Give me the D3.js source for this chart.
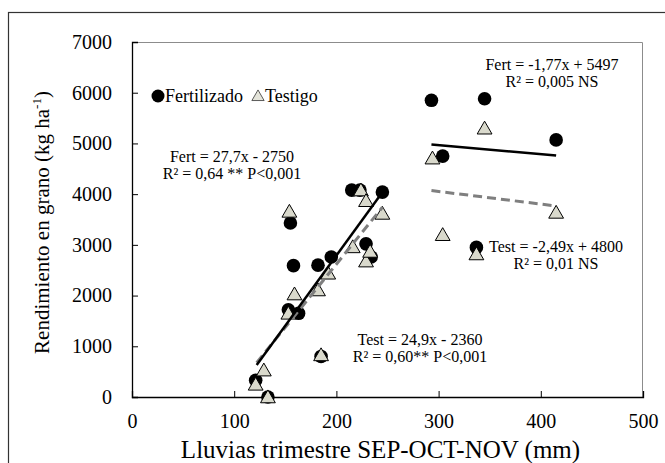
<!DOCTYPE html>
<html>
<head>
<meta charset="utf-8">
<script src="https://cdn.jsdelivr.net/npm/d3@7"></script>
<style>
  body { margin: 0; background: #fff; }
  svg text { font-family: "Liberation Serif", "Times New Roman", serif; fill: #000; }
  .axis path, .axis line { stroke: #000; }
  .axis text { font-size: 20px; }
</style>
</head>
<body>
<div id="chart"></div>
<script>
// rainfall (mm) and grain yield (kg/ha)
var fertX = [121, 133, 153, 155, 158, 163, 182, 185, 195, 215, 223, 229, 234, 245, 293, 304, 337, 345, 415];
var fertY = [330, 0, 1720, 3430, 2590, 1650, 2600, 800, 2760, 4080, 4080, 3020, 2760, 4040, 5850, 4750, 2950, 5880, 5070];
var testX = [121, 129, 133, 153, 154, 159, 182, 185, 192, 216, 224, 229, 229, 233, 245, 294, 304, 337, 345, 415];
var testY = [250, 530, 0, 1650, 3660, 2030, 2110, 830, 2440, 2960, 4080, 3870, 2680, 2870, 3620, 4710, 3200, 2820, 5300, 3640];

// regression fits: [slope, intercept, xmin, xmax]
var fertFitLow = [27.7, -2750, 122, 245];
var testFitLow = [24.9, -2360, 122, 245];
var fertFitHigh = [-1.77, 5497, 293, 415];
var testFitHigh = [-2.49, 4800, 293, 415];

var xTicks = [0, 100, 200, 300, 400, 500];
var yTicks = [0, 1000, 2000, 3000, 4000, 5000, 6000, 7000];

var W = 665, H = 463;
var margin = { left: 132, top: 42, right: 22, bottom: 66 };
var width = W - margin.left - margin.right,
    height = H - margin.top - margin.bottom;

var svg = d3.select("#chart").append("svg")
    .attr("width", W)
    .attr("height", H);

// outer chart frame (runs off the page right/bottom)
svg.append("rect")
    .attr("x", 8.5).attr("y", 12.5)
    .attr("width", 700).attr("height", 500)
    .attr("fill", "none")
    .attr("stroke", "#333")
    .attr("stroke-width", 1.2);

var chart = svg.append("g")
    .attr("transform", `translate(${margin.left},${margin.top})`);

var xScale = d3.scaleLinear().domain([0, 500]).range([0, width]);
var yScale = d3.scaleLinear().domain([0, 7000]).range([height, 0]);

// plot area top/right border
chart.append("path")
    .attr("d", `M0,0.5H${width - 0.5}V${height}`)
    .attr("fill", "none")
    .attr("stroke", "#8c8c8c")
    .attr("stroke-width", 1);

chart.append("g")
    .attr("class", "axis")
    .call(d3.axisLeft(yScale).tickValues(yTicks).tickSize(-6).tickPadding(20).tickFormat(d3.format("d")))
    .call(g => g.select(".domain").attr("stroke-width", 1.3));

chart.append("g")
    .attr("class", "axis")
    .attr("transform", `translate(0,${height})`)
    .call(d3.axisBottom(xScale).tickValues(xTicks).tickSize(-6).tickPadding(17).tickFormat(d3.format("d")))
    .call(g => g.select(".domain").attr("stroke-width", 1.3));

// axis titles
svg.append("text")
    .attr("x", margin.left + width / 2 - 7)
    .attr("y", 458)
    .attr("text-anchor", "middle")
    .style("font-size", "25px")
    .text("Lluvias trimestre SEP-OCT-NOV (mm)");

var yt = svg.append("text")
    .attr("transform", `translate(49,${margin.top + height / 2 + 3}) rotate(-90)`)
    .attr("text-anchor", "middle")
    .style("font-size", "21px");
yt.append("tspan").text("Rendimiento en grano (kg ha");
yt.append("tspan").attr("dy", -8).style("font-size", "13px").text("-1");
yt.append("tspan").attr("dy", 8).text(")");

// fitted lines
function fitLine(f, dashed) {
    var pts = [f[2], f[3]].map(x => [x, f[0] * x + f[1]]);
    chart.append("path")
        .datum(pts)
        .attr("d", d3.line().x(d => xScale(d[0])).y(d => yScale(d[1])))
        .attr("fill", "none")
        .attr("stroke", dashed ? "#7f7f7f" : "#000")
        .attr("stroke-width", dashed ? 3 : 2.5)
        .attr("stroke-dasharray", dashed ? "9,5" : null);
}

var tri = d3.symbol().type(d3.symbolTriangle).size(95);

// points: fertilizado (circles) under testigo (triangles)
chart.selectAll(".fert")
    .data(d3.zip(fertX, fertY))
    .enter().append("circle")
    .attr("class", "fert")
    .attr("cx", d => xScale(d[0]))
    .attr("cy", d => yScale(d[1]))
    .attr("r", 6.8)
    .attr("fill", "#000");

chart.selectAll(".test")
    .data(d3.zip(testX, testY))
    .enter().append("path")
    .attr("class", "test")
    .attr("d", tri)
    .attr("transform", d => `translate(${xScale(d[0])},${yScale(d[1]) + 1.5})`)
    .attr("fill", "#d9d9cc")
    .attr("stroke", "#000")
    .attr("stroke-width", 1);

fitLine(testFitLow, true);
fitLine(testFitHigh, true);
fitLine(fertFitLow, false);
fitLine(fertFitHigh, false);

// legend
var leg = svg.append("g").attr("transform", "translate(158,96)");
leg.append("circle").attr("r", 6.5).attr("fill", "#000");
leg.append("text").attr("x", 7).attr("dy", "0.35em").style("font-size", "18px").text("Fertilizado");
leg.append("path").attr("d", d3.symbol().type(d3.symbolTriangle).size(65)).attr("transform", "translate(100,1)")
    .attr("fill", "#e4e4da").attr("stroke", "#333").attr("stroke-width", 0.8);
leg.append("text").attr("x", 107).attr("dy", "0.35em").style("font-size", "18px").text("Testigo");

// equations
function note(x, y, lines) {
    var t = svg.append("text").attr("text-anchor", "middle").style("font-size", "16px");
    lines.forEach(function (s, i) {
        var sp = t.append("tspan").attr("x", x).attr("y", y + i * 17);
        sp.text(s);
    });
}
note(232, 162, ["Fert = 27,7x - 2750", "R\u00b2 = 0,64 ** P<0,001"]);
note(420, 345, ["Test = 24,9x - 2360", "R\u00b2 = 0,60** P<0,001"]);
note(552, 70, ["Fert = -1,77x + 5497", "R\u00b2 = 0,005 NS"]);
note(556, 252, ["Test = -2,49x + 4800", "R\u00b2 = 0,01 NS"]);
</script>
</body>
</html>
